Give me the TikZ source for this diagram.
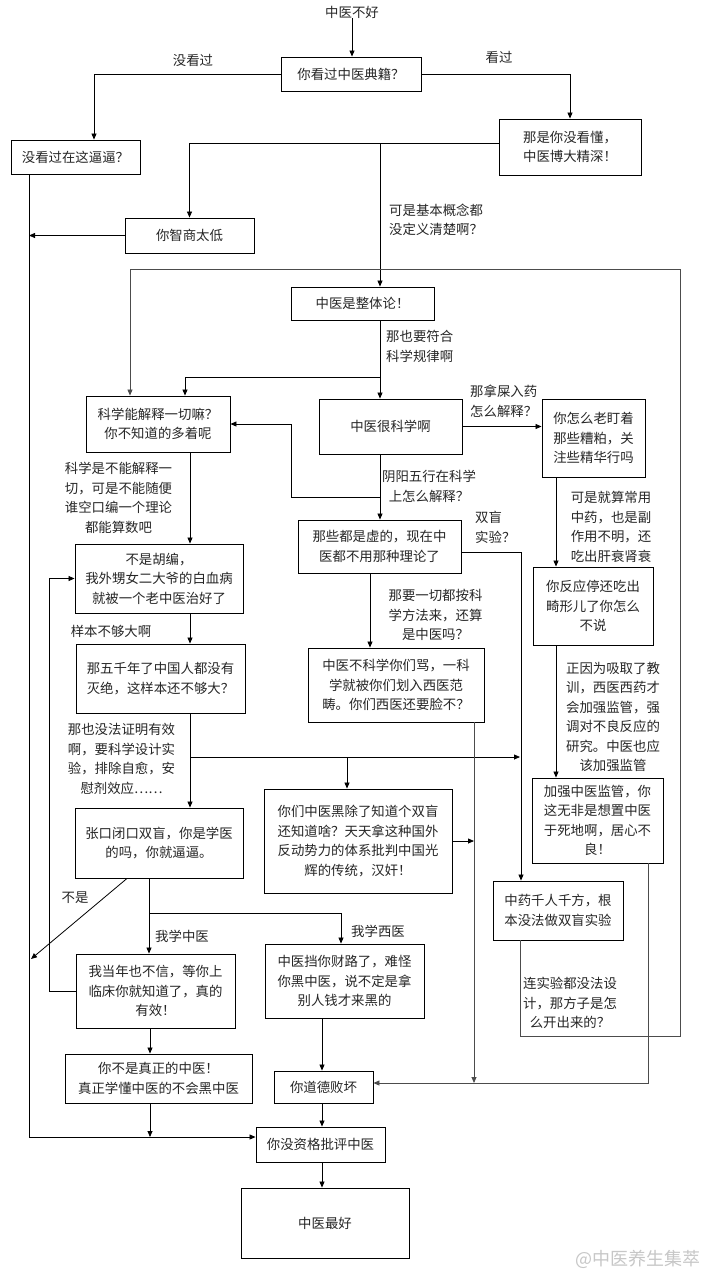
\documentclass[tikz,border=0pt]{standalone}
\usepackage{fontspec}
\newfontfamily\cjk{Noto Sans CJK SC}
\usetikzlibrary{arrows.meta,shadows}
\begin{document}
\begin{tikzpicture}[x=1pt,y=-1pt,
  every node/.style={font=\cjk\fontsize{13.4}{19.5}\selectfont, inner sep=0pt, text=black!85},
  box/.style={draw=black, line width=0.9pt, fill=white, align=center,
    drop shadow={shadow xshift=1.2pt, shadow yshift=-1.2pt, opacity=0.7, fill=black}},
  lab/.style={align=center},
  labl/.style={align=left},
  arr/.style={-{Triangle[length=6pt,width=5pt]}, line width=0.8pt},
  ln/.style={line width=0.8pt},
  gr/.style={draw=black!70}
]
\fill[white] (0,0) rectangle (712,1280);
\useasboundingbox (0,0) rectangle (712,1280);

% boxes
\node (t0) at (352,12) {中医不好};
\node[box, minimum width=140pt, minimum height=34pt] (n1) at (351,74) {你看过中医典籍？};
\node[box, minimum width=129pt, minimum height=34pt] (n2) at (75.5,157) {没看过在这逼逼？};
\node[box, minimum width=142pt, minimum height=56pt] (n3) at (570,147) {那是你没看懂，\\中医博大精深！};
\node[box, minimum width=129pt, minimum height=35pt] (n4) at (189.5,235.5) {你智商太低};
\node[box, minimum width=143pt, minimum height=33pt] (n5) at (362.5,303.5) {中医是整体论！};
\node[box, minimum width=144pt, minimum height=56pt] (n6) at (158,424) {科学能解释一切嘛？\\你不知道的多着呢};
\node[box, minimum width=143pt, minimum height=55pt] (n7) at (390.5,426.5) {中医很科学啊};
\node[box, minimum width=103pt, minimum height=78pt] (n8) at (593.5,438) {你怎么老盯着\\那些糟粕，关\\注些精华行吗};
\node[box, minimum width=163pt, minimum height=53pt] (n9) at (379.5,546.5) {那些都是虚的，现在中\\医都不用那种理论了};
\node[box, minimum width=168pt, minimum height=69pt] (n10) at (159,578.5) {不是胡编，\\我外甥女二大爷的白血病\\就被一个老中医治好了};
\node[box, minimum width=120pt, minimum height=78pt] (n11) at (593,606) {你反应停还吃出\\畸形儿了你怎么\\不说};
\node[box, minimum width=169pt, minimum height=69pt] (n12) at (160.5,678.5) {那五千年了中国人都没有\\灭绝，这样本还不够大？};
\node[box, minimum width=176pt, minimum height=74pt] (n13) at (396,685) {中医不科学你们骂，一科\\学就被你们划入西医范\\畴。你们西医还要脸不？};
\node[box, minimum width=131pt, minimum height=85pt] (n14) at (597.5,820.5) {加强中医监管，你\\这无非是想置中医\\于死地啊，居心不\\良！};
\node[box, minimum width=188pt, minimum height=104pt] (n15) at (358,841) {你们中医黑除了知道个双盲\\还知道啥？天天拿这种国外\\反动势力的体系批判中国光\\辉的传统，汉奸！};
\node[box, minimum width=168pt, minimum height=70pt] (n16) at (159,843) {张口闭口双盲，你是学医\\的吗，你就逼逼。};
\node[box, minimum width=130pt, minimum height=59pt] (n17) at (558,910.5) {中药千人千方，根\\本没法做双盲实验};
\node[box, minimum width=159pt, minimum height=74pt] (n18) at (155.5,991) {我当年也不信，等你上\\临床你就知道了，真的\\有效！};
\node[box, minimum width=159pt, minimum height=74pt] (n19) at (344.5,981) {中医挡你财路了，难怪\\你黑中医，说不定是拿\\别人钱才来黑的};
\node[box, minimum width=187pt, minimum height=49pt] (n20) at (158.5,1078.5) {你不是真正的中医！\\真正学懂中医的不会黑中医};
\node[box, minimum width=99pt, minimum height=32pt] (n21) at (323.5,1087) {你道德败坏};
\node[box, minimum width=129pt, minimum height=35pt] (n22) at (320.5,1144.5) {你没资格批评中医};
\node[box, minimum width=168pt, minimum height=70pt] (n23) at (325,1223) {中医最好};

% labels
\node[lab] (l1) at (193,60) {没看过};
\node[lab] (l2) at (499,57) {看过};
\node[labl, anchor=west] (l3) at (389,220) {可是基本概念都\\没定义清楚啊？};
\node[labl, anchor=west] (l4) at (386,346.5) {那也要符合\\科学规律啊};
\node[labl, anchor=west] (l5) at (470,401.5) {那拿屎入药\\怎么解释？};
\node[lab] (l6) at (429,486.5) {阴阳五行在科学\\上怎么解释？};
\node[lab] (l7) at (118.5,498) {科学是不能解释一\\切，可是不能随便\\谁空口编一个理论\\都能算数吧};
\node[lab] (l8) at (611,527) {可是就算常用\\中药，也是副\\作用不明，还\\吃出肝衰肾衰};
\node[labl, anchor=west] (l9) at (475,527.5) {双盲\\实验？};
\node[lab] (l10) at (435.5,615) {那要一切都按科\\学方法来，还算\\是中医吗？};
\node[lab] (l11) at (111,631) {样本不够大啊};
\node[lab] (l12) at (613,717) {正因为吸取了教\\训，西医西药才\\会加强监管，强\\调对不良反应的\\研究。中医也应\\该加强监管};
\node[lab] (l13) at (121.5,759) {那也没法证明有效\\啊，要科学设计实\\验，排除自愈，安\\慰剂效应……};
\node[lab] (l14) at (75,898) {不是};
\node[lab] (l15) at (182,936) {我学中医};
\node[lab] (l16) at (378,931) {我学西医};
\node[lab] (l17) at (570,1003) {连实验都没法设\\计，那方子是怎\\么开出来的？};
\node[text=black!22, font=\cjk\fontsize{18}{20}\selectfont] (wm) at (638,1259) {@中医养生集萃};

% helper coordinates
\coordinate (j1) at (380,143);
\coordinate (b1) at (380,377);
\coordinate (b2) at (380,497);
\coordinate (b3) at (190,757);
\coordinate (b4) at (149,913);
\coordinate (lb) at (680,1036);
\coordinate (lt) at (680,269);
\coordinate (m1) at (474,1083);
\coordinate (e1) at (29,1137);
\coordinate (d1) at (31,959);
\coordinate (c49) at (49,0);
\coordinate (c94) at (94,0);
\coordinate (c127) at (127,0);
\coordinate (c130) at (130,0);
\coordinate (c149) at (149,0);
\coordinate (c150) at (150,0);
\coordinate (c185) at (185,0);
\coordinate (c190) at (190,0);
\coordinate (c291) at (291,0);
\coordinate (c322) at (322,0);
\coordinate (c341) at (341,0);
\coordinate (c347) at (347,0);
\coordinate (c370) at (370,0);
\coordinate (c520) at (520,0);
\coordinate (c521) at (521,0);
\coordinate (c556) at (556,0);
\coordinate (c648) at (648,0);

% connectors
\draw[arr] (t0.south) -- (t0.south |- n1.north);
\draw[arr] (n1.west) -| (n2.north -| c94);
\draw[arr] (n1.east) -| (n3.north);
\draw[arr] (n3.west |- j1) -| (n4.north);
\draw[arr] (j1) -- (n5.north -| j1);
\draw[arr] (n2.south -| e1) -- (e1) -- (e1 -| n22.west);
\draw[arr] (n4.west) -- (n4.west -| e1);
\draw[arr] (n5.south -| b1) -- (n7.north -| b1);
\draw[arr] (b1) -| (n6.north -| c185);
\draw[arr, gr] (n17.south -| c520) |- (lb) -- (lt) -| (n6.north -| c130);
\draw[arr] (n7.east) -- (n7.east -| n8.west);
\draw[arr] (n7.south -| b2) -- (n9.north -| b2);
\draw[arr] (b2) -- (b2 -| c291) |- (n6.east);
\draw[arr] (n6.south -| c190) -- (n10.north -| c190);
\draw[arr] (n8.south -| c556) -- (n11.north -| c556);
\draw[arr] ([yshift=-5.5pt]n9.east) -| (n17.north -| c521);
\draw[arr] (n9.south -| c370) -- (n13.north -| c370);
\draw[arr] (n10.south -| c190) -- (n12.north -| c190);
\draw[arr] (n11.south -| c556) -- (n14.north -| c556);
\draw[arr] (n12.south -| c190) -- (n16.north -| c190);
\draw[arr] (b3) -- (b3 -| c520);
\draw[arr] (b3 -| c347) -- (n15.north -| c347);
\draw[arr, gr] (n13.south -| m1) -- (m1);
\draw[arr] (n15.east) -- (n15.east -| m1);
\draw[arr, gr] (n14.south -| c648) |- ([yshift=4pt]n21.east);
\draw[arr] (n16.south -| c127) -- (d1);
\draw[arr] (n16.south -| c149) -- (n18.north -| c149);
\draw[arr] (b4) -| (n19.north -| c341);
\draw[arr] (n18.west) -- (n18.west -| c49) |- (n10.west);
\draw[arr] (n18.south -| c150) -- (n20.north -| c150);
\draw[arr] (n20.south -| c150) -- (c150 |- e1);
\draw[arr] (n19.south -| c322) -- (n21.north -| c322);
\draw[arr] (n21.south -| c322) -- (n22.north -| c322);
\draw[arr] (n22.south -| c322) -- (n23.north -| c322);
\end{tikzpicture}
\end{document}
